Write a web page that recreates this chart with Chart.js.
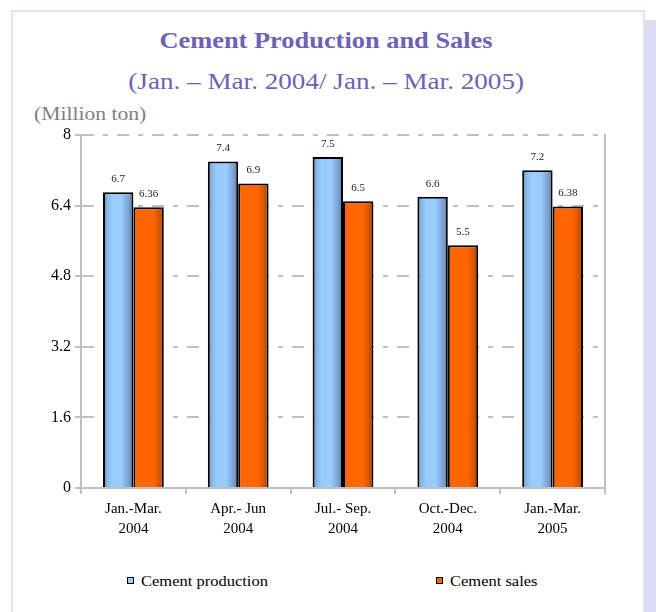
<!DOCTYPE html>
<html><head><meta charset="utf-8">
<script src="https://cdn.jsdelivr.net/npm/chart.js@4"></script>
<style>
html,body{margin:0;padding:0;background:#fff;width:656px;height:612px;overflow:hidden;font-family:'Liberation Serif','Times New Roman',serif;}
#frame{position:absolute;left:11px;top:10px;width:630px;height:620px;border:2px solid #e4e4f6;}
#shadow{position:absolute;left:644px;top:20px;width:12px;height:600px;background:#dcdcf2;}
.t{position:absolute;white-space:nowrap;}
#title{left:0;width:652px;top:27px;line-height:26px;text-align:center;color:#6e62b6;font-weight:bold;font-size:24px;transform:scaleX(1.1);transform-origin:326px 0;}
#sub{left:0;width:652px;top:68px;line-height:28px;text-align:center;color:#6e62b6;font-size:23px;transform:scaleX(1.18);transform-origin:325px 0;}
#unit{left:34px;top:104px;line-height:20px;color:#808080;font-size:18px;transform:scaleX(1.2);transform-origin:0 0;}
.lg{position:absolute;top:571px;line-height:20px;font-size:15px;color:#000;white-space:nowrap;transform:scaleX(1.1);transform-origin:0 0;}
.mk{position:absolute;width:5px;height:5px;border:1.5px solid #000;}
canvas{position:absolute;left:0;top:0;}
</style></head>
<body>
<div id="frame"></div><div id="shadow"></div>
<div class="t" id="title">Cement Production and Sales</div>
<div class="t" id="sub">(Jan. – Mar. 2004/ Jan. – Mar. 2005)</div>
<div class="t" id="unit">(Million ton)</div>
<div class="mk" id="mk0" style="left:127px;top:577px;"></div>
<div class="lg" id="lg0" style="left:141px;"></div>
<div class="mk" id="mk1" style="left:436px;top:577px;"></div>
<div class="lg" id="lg1" style="left:450px;"></div>
<canvas id="c" width="656" height="612"></canvas>
<script>
const categories = [['Jan.-Mar.','2004'],['Apr.- Jun','2004'],['Jul.- Sep.','2004'],['Oct.-Dec.','2004'],['Jan.-Mar.','2005']];
const seriesNames = ['Cement production','Cement sales'];
const production = [6.7, 7.4, 7.5, 6.6, 7.2];
const sales = [6.36, 6.9, 6.5, 5.5, 6.38];
const yTicks = [0, 1.6, 3.2, 4.8, 6.4, 8];

const BLUE = '#99ccff', ORANGE = '#ff6600';
const CAT_PCT = 0.58;

function gradFill(stops, solid, side) {
  return (c) => {
    const chart = c.chart, xs = chart.scales && chart.scales.x;
    if (!xs || !chart.chartArea || c.dataIndex === undefined) return solid;
    const half = xs.width / categories.length * CAT_PCT / 2;
    const cx = xs.getPixelForValue(c.dataIndex);
    const x0 = side < 0 ? cx - half : cx;
    const g = chart.ctx.createLinearGradient(x0, 0, x0 + half, 0);
    stops.forEach(s => g.addColorStop(s[0], s[1]));
    return g;
  };
}

const blueStops = [[0,'#5a7aab'],[0.12,'#86b4e4'],[0.3,'#99ccff'],[0.6,'#99ccff'],[0.85,'#7aa0cf'],[1,'#56759f']];
const orangeStops = [[0,'#d25400'],[0.12,'#ff6600'],[0.65,'#ff6600'],[0.85,'#d85500'],[1,'#a04000']];

const valueLabels = {
  id: 'valueLabels',
  afterDatasetsDraw(chart) {
    const ctx = chart.ctx;
    ctx.save();
    ctx.font = '11px "Liberation Serif", "Times New Roman", serif';
    ctx.fillStyle = '#222';
    ctx.textAlign = 'center';
    ctx.textBaseline = 'middle';
    chart.data.datasets.forEach((ds, di) => {
      chart.getDatasetMeta(di).data.forEach((el, i) => {
        ctx.fillText(String(ds.data[i]), el.x, el.y - 13);
      });
    });
    ctx.restore();
  }
};

document.getElementById('lg0').textContent = seriesNames[0];
document.getElementById('lg1').textContent = seriesNames[1];
document.getElementById('mk0').style.background = BLUE;
document.getElementById('mk1').style.background = ORANGE;

const FONT = '"Liberation Serif", "Times New Roman", serif';

new Chart(document.getElementById('c'), {
  type: 'bar',
  data: {
    labels: categories,
    datasets: [
      { label: seriesNames[0], data: production, backgroundColor: gradFill(blueStops, BLUE, -1), borderColor: '#000', borderWidth: 2, borderSkipped: 'bottom', categoryPercentage: CAT_PCT, barPercentage: 1 },
      { label: seriesNames[1], data: sales, backgroundColor: gradFill(orangeStops, ORANGE, 1), borderColor: '#000', borderWidth: 2, borderSkipped: 'bottom', categoryPercentage: CAT_PCT, barPercentage: 1 }
    ]
  },
  options: {
    responsive: false,
    animation: false,
    events: [],
    layout: { padding: { top: 135, left: 0, right: 51, bottom: 64 } },
    plugins: { legend: { display: false }, title: { display: false }, tooltip: { enabled: false } },
    scales: {
      x: {
        offset: true,
        grid: { offset: true, drawOnChartArea: false, color: '#c0c0c0', lineWidth: 2, tickLength: 6 },
        border: { color: '#c0c0c0', width: 2 },
        ticks: { color: '#000', font: { family: FONT, size: 15, lineHeight: 1.35 }, padding: 5, maxRotation: 0, autoSkip: false },
        afterFit(s) { s.height = 60; }
      },
      y: {
        min: 0, max: 8,
        afterBuildTicks(s) { s.ticks = yTicks.map(v => ({ value: v })); },
        grid: { color: '#c0c0c0', lineWidth: 2, tickLength: 6, tickColor: '#c0c0c0', tickBorderDash: [] },
        border: { color: '#c0c0c0', width: 2, dash: [12, 9, 5, 9] },
        ticks: { color: '#000', font: { family: FONT, size: 16 }, padding: 4 },
        afterFit(s) { s.width = 81; }
      },
      y2: {
        position: 'right', min: 0, max: 8,
        grid: { drawOnChartArea: false, drawTicks: false },
        border: { color: '#c0c0c0', width: 2 },
        ticks: { display: false },
        afterFit(s) { s.width = 0; }
      }
    }
  },
  plugins: [valueLabels]
});
</script>
</body></html>
